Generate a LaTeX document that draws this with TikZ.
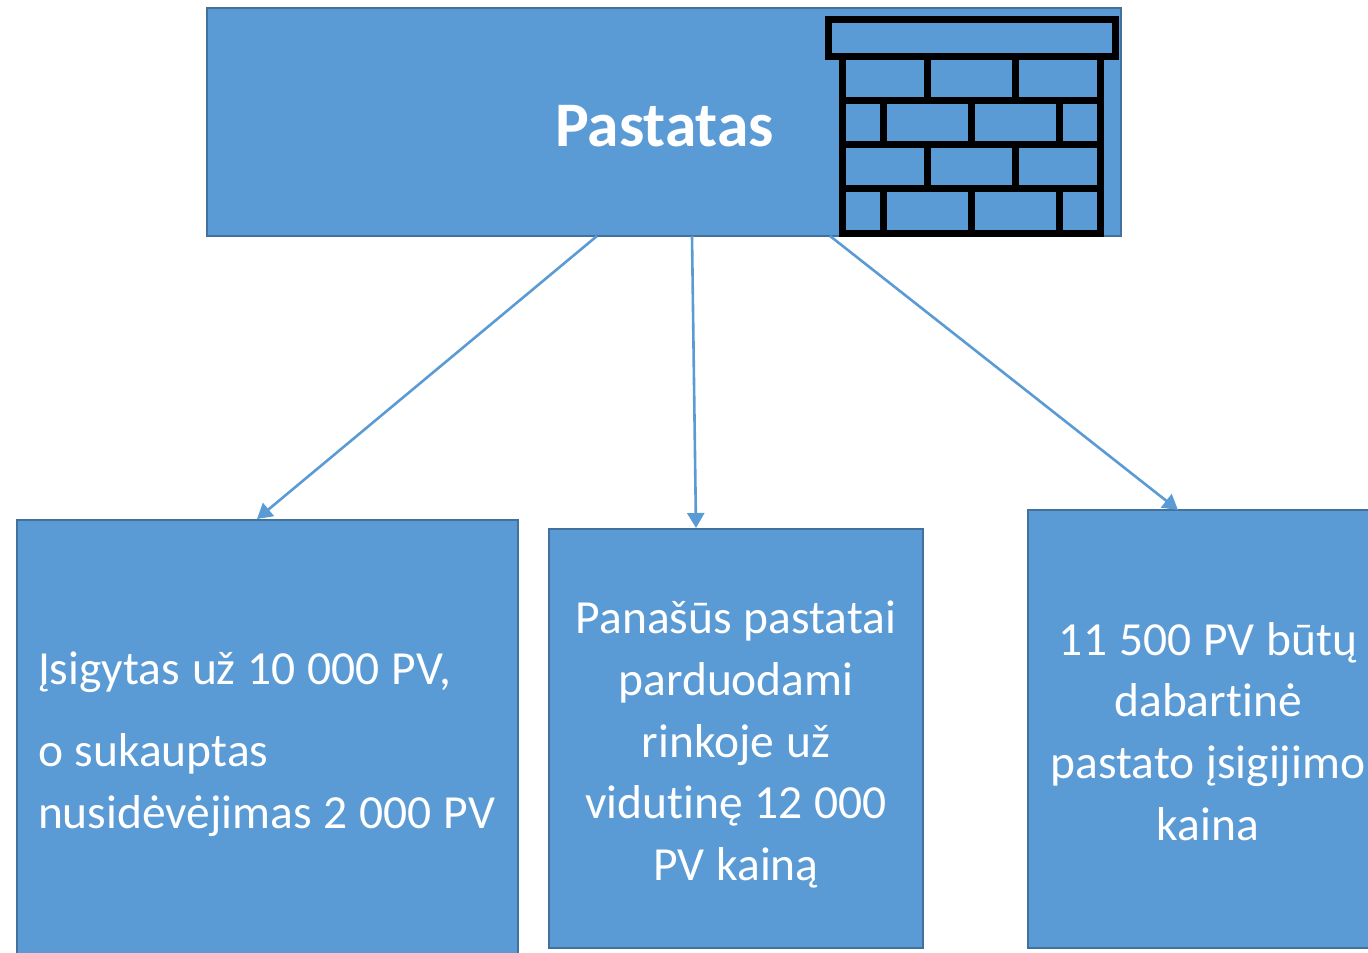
\documentclass[tikz,border=0pt]{standalone}
\usepackage{fontspec}
\setmainfont{Carlito}[Ligatures=NoCommon]
\usetikzlibrary{arrows.meta}
\definecolor{boxfill}{HTML}{5B9BD5}
\definecolor{boxedge}{HTML}{41719C}
\newcommand{\gp}{\hspace{0.25em}}
\tikzset{
  panel/.style={draw=boxedge,fill=boxfill,line width=2.6pt,inner sep=0pt,text=white,font=\fontsize{47.5}{61.7}\selectfont},
  link/.style={draw=boxfill,line width=2.6pt,-{Triangle[length=15pt,width=17pt]},shorten >=0pt},
  brick/.style={draw=black,line width=7pt}
}
\begin{document}
\begin{tikzpicture}[x=1pt,y=-1pt]
\useasboundingbox (0,0) rectangle (1368,953);
\clip (0,0) rectangle (1368,953);
\node[panel,minimum width=914pt,minimum height=228pt] (top) at (664,122) {};
\node[text=white,inner sep=0pt,font=\fontsize{63.5}{70}\selectfont\bfseries] (title) at (664.5,126) {Pastatas};
\node[panel,minimum width=501pt,minimum height=448pt,align=left,text width=459pt] (left) at (267.5,744)
  {Įsigytas\gp{}už\gp{}10\gp{}000\gp{}PV,\\[21pt]o\gp{}sukauptas\\\mbox{nusidėvėjimas\gp{}2\gp{}000\gp{}PV}};
\node[panel,minimum width=374pt,minimum height=419pt,align=center,text width=360pt] (mid) at (736,738.5)
  {\rule{0pt}{45pt}Panašūs\gp{}pastatai\\parduodami\\rinkoje\gp{}už\\vidutinę\gp{}12\gp{}000\\PV\gp{}kainą};
\node[panel,minimum width=360pt,minimum height=438pt,align=center,text width=340pt] (right) at (1208,729)
  {\rule{0pt}{38pt}11\gp{}500\gp{}PV\gp{}būtų\\dabartinė\\pastato\gp{}įsigijimo\\kaina};
\coordinate (s1) at (597,236);
\coordinate (e1) at (257,519);
\coordinate (s2) at (692,236);
\coordinate (e2) at (696,528);
\coordinate (s3) at (830,236);
\coordinate (e3) at (1178,510);
\draw[link] (s1) -- (e1);
\draw[link] (s2) -- (e2);
\draw[link] (s3) -- (e3);
% brick wall icon
\draw[brick] (828.2,19.5) rectangle (1115,56.3);
\draw[brick] (842.8,56.3) -- (842.8,233) -- (1100.5,233) -- (1100.5,56.3);
\foreach \yy in {100.3,144.7,188.7} \draw[brick] (842.8,\yy) -- (1100.5,\yy);
\foreach \xx in {927.7,1015.7} {
  \draw[brick] (\xx,56.3) -- (\xx,100.3);
  \draw[brick] (\xx,144.7) -- (\xx,188.7);
}
\foreach \xx in {883.5,971.7,1059.8} {
  \draw[brick] (\xx,100.3) -- (\xx,144.7);
  \draw[brick] (\xx,188.7) -- (\xx,233);
}
\end{tikzpicture}
\end{document}
